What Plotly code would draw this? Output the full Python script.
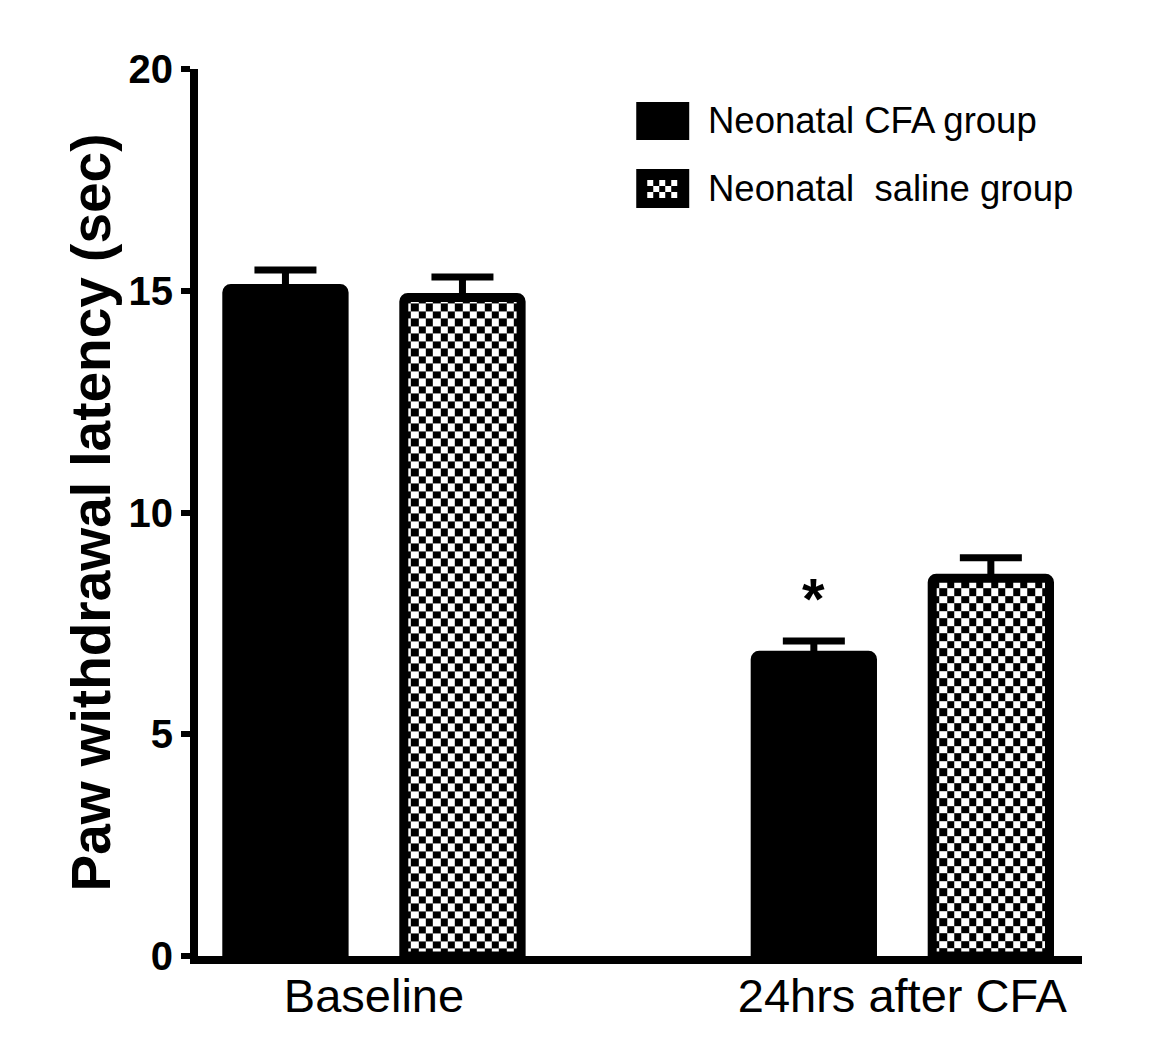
import plotly.graph_objects as go
import numpy as np

# ---- data ----
categories = ["Baseline", "24hrs after CFA"]
cfa_values = [15.05, 6.78]
cfa_errors = [0.42, 0.32]
saline_values = [14.85, 8.52]
saline_errors = [0.46, 0.46]
series_names = ["Neonatal CFA group", "Neonatal\u00a0 saline group"]
y_ticks = [0, 5, 10, 15, 20]

# ---- layout geometry (screen pixels; page body has an 8px margin) ----
W, H = 1176, 1055
BODY = 8
SL, SR, ST, SB = 197.5, 1082, 69, 956   # plot area on screen
PL, PR, PT, PB = SL - BODY, SR - BODY, ST - BODY, SB - BODY
XR = [-0.333, 1.34]
YR = [0, 20]
BAR_W = 0.222
OFF = 0.1675
LINE_W = 9
CELL_PX = 7.5

font = "Liberation Sans, Arial, sans-serif"
xpos = list(range(len(categories)))


def px_to_paper(sx, sy):
    return (sx - SL) / (SR - SL), (SB - sy) / (SB - ST)


fig = go.Figure()

# checkerboard fill for saline bars (heatmaps drawn beneath the bars)
x_per_px = (XR[1] - XR[0]) / (SR - SL)
y_per_px = (YR[1] - YR[0]) / (SB - ST)
for i, v in enumerate(saline_values):
    left = xpos[i] + OFF - BAR_W / 2
    ncol = int(round(BAR_W / x_per_px / CELL_PX))
    xe = list(np.linspace(left, left + BAR_W, ncol + 1))
    ch = CELL_PX * y_per_px
    nrow = int(np.ceil(v / ch))
    ye = [k * ch for k in range(nrow)] + [v]
    z = [[(r + c) % 2 for c in range(ncol)] for r in range(nrow)]
    fig.add_trace(go.Heatmap(
        x=xe, y=ye, z=z, zmin=0, zmax=1,
        colorscale=[[0, "white"], [1, "black"]],
        showscale=False, hoverinfo="skip", zsmooth=False,
    ))

fig.add_trace(go.Bar(
    x=xpos, y=cfa_values, width=BAR_W, offset=-OFF - BAR_W / 2,
    name=series_names[0], showlegend=False,
    marker=dict(color="black", line=dict(color="black", width=LINE_W), cornerradius=4),
    error_y=dict(type="data", array=cfa_errors, arrayminus=[0] * len(cfa_errors),
                 symmetric=False, color="black", thickness=7, width=31),
))
fig.add_trace(go.Bar(
    x=xpos, y=saline_values, width=BAR_W, offset=OFF - BAR_W / 2,
    name=series_names[1], showlegend=False,
    marker=dict(color="rgba(0,0,0,0)", line=dict(color="black", width=LINE_W), cornerradius=4),
    error_y=dict(type="data", array=saline_errors, arrayminus=[0] * len(saline_errors),
                 symmetric=False, color="black", thickness=7, width=31),
))

# significance asterisk
fig.add_annotation(
    x=xpos[1] - OFF, y=cfa_values[1] + cfa_errors[1], xref="x", yref="y",
    text="<b>*</b>", showarrow=False, yanchor="bottom", yshift=8,
    font=dict(family=font, size=58, color="black"),
)

# manual legend
shapes = []
annos = []
sw = [(637, 103, 688, 139), (637, 170, 688, 207)]
for k, (x0, y0, x1, y1) in enumerate(sw):
    a0, b0 = px_to_paper(x0, y1)
    a1, b1 = px_to_paper(x1, y0)
    shapes.append(dict(type="rect", xref="paper", yref="paper", x0=a0, y0=b0, x1=a1, y1=b1,
                       fillcolor="black", line=dict(color="black", width=2), layer="above"))
    tx, ty = px_to_paper(706, (y0 + y1) / 2)
    annos.append(dict(x=tx, y=ty, xref="paper", yref="paper", text=series_names[k],
                      showarrow=False, xanchor="left", yanchor="middle",
                      font=dict(family=font, size=36.5, color="black")))
# checker inside second swatch
cx0, cy0, cs = 647, 180, 6
for r in range(3):
    for c in range(5):
        if (r + c) % 2 == 0:
            a0, b0 = px_to_paper(cx0 + c * cs, cy0 + (r + 1) * cs)
            a1, b1 = px_to_paper(cx0 + (c + 1) * cs, cy0 + r * cs)
            shapes.append(dict(type="rect", xref="paper", yref="paper", x0=a0, y0=b0, x1=a1, y1=b1,
                               fillcolor="white", line=dict(width=0), layer="above"))

for a in annos:
    fig.add_annotation(**a)

fig.update_layout(
    width=W, height=H,
    margin=dict(l=PL, r=W - PR, t=PT, b=H - PB, autoexpand=False),
    paper_bgcolor="white", plot_bgcolor="white",
    showlegend=False,
    shapes=shapes,
    font=dict(family=font, color="black"),
    xaxis=dict(
        range=XR, tickvals=xpos, ticktext=categories, showgrid=False, zeroline=False,
        showline=True, linecolor="black", linewidth=8, ticks="",
        ticklabelstandoff=-8,
        tickfont=dict(family=font, size=47, color="black"), fixedrange=True,
    ),
    yaxis=dict(
        range=YR, tickvals=y_ticks, showgrid=False, zeroline=False,
        showline=True, linecolor="black", linewidth=8,
        ticks="outside", ticklen=9, tickwidth=6, tickcolor="black",
        tickfont=dict(family=font, size=40, color="black", weight="bold"),
        title=dict(text="Paw withdrawal latency (sec)", standoff=3,
                   font=dict(family=font, size=55, color="black", weight="bold")),
        fixedrange=True,
    ),
)

fig.write_html("out.html")
